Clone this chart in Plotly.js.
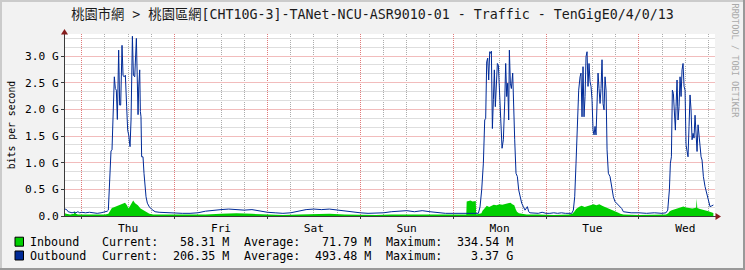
<!DOCTYPE html>
<html><head><meta charset="utf-8">
<script src="https://cdn.plot.ly/plotly-3.0.1.min.js"></script>
<style>html,body{margin:0;padding:0;background:#F2F2F2;overflow:hidden}#chart{width:745px;height:270px}</style>
</head><body>
<div id="chart"></div>
<script>
// ---- data (hours relative to Thursday 00:00, values in Gbit/s) ----
const titleText = '桃園市網 > 桃園區網[CHT10G-3]-TANet-NCU-ASR9010-01 - Traffic - TenGigE0/4/0/13';
const seriesNames = ['Inbound', 'Outbound'];
const seriesColors = ['#00CF00', '#002A97'];
const statCurrent = ['58.31 M', '206.35 M'];
const statAverage = ['71.79 M', '493.48 M'];
const statMaximum = ['334.54 M', '3.37 G'];
const yTickVals = [0, 0.5, 1.0, 1.5, 2.0, 2.5, 3.0];
const yTickText = ['0.0', '0.5 G', '1.0 G', '1.5 G', '2.0 G', '2.5 G', '3.0 G'];

const inHours = [-4.3,-4,-3,-2,-1.8,-1.5,-1,0,1,2,3,4,5,6,6.9,7.3,7.8,8.5,9.5,10.5,11.2,11.7,12.1,12.6,13.3,13.8,14.5,15.2,16,16.8,17.5,18.5,
20,24,28,32,36,40,44,48,52,56,60,64,68,72,76,80,84,88,92,96,99.4,
99.5,100,100.5,101,101.5,101.85,101.95,
102.5,103.3,103.6,104,104.7,105.3,106,106.5,107.2,108,108.7,109.5,110.2,110.8,111.3,111.8,112.2,112.5,113,114,115,118,122,126,
126.8,127.3,127.8,128.5,129.2,130,130.8,131.5,132.3,133,133.8,134.5,135.2,135.9,136.6,137.3,138,138.7,139.2,140,144,148,151,
151.6,152,152.5,153.3,154.2,155,155.5,156.2,157,157.8,158.5,158.8,158.95,159.1,159.8,160.5,161.3,162,162.7,163.26];
const inGbps = [0.05,0.04,0.03,0.04,0.1,0.04,0.03,0.03,0.02,0.03,0.02,0.03,0.02,0.03,0.04,0.1,0.15,0.17,0.2,0.23,0.25,0.2,0.14,0.2,0.29,0.24,0.2,0.14,0.1,0.06,0.04,0.03,
0.03,0.02,0.02,0.03,0.04,0.05,0.04,0.03,0.02,0.03,0.04,0.04,0.03,0.02,0.02,0.03,0.03,0.03,0.02,0.02,0.03,
0.27,0.28,0.29,0.27,0.28,0.28,0.03,
0.04,0.05,0.1,0.14,0.19,0.17,0.2,0.21,0.2,0.22,0.21,0.23,0.24,0.25,0.22,0.2,0.12,0.08,0.05,0.04,0.03,0.03,0.02,0.03,
0.04,0.08,0.13,0.17,0.19,0.17,0.19,0.21,0.22,0.2,0.22,0.19,0.17,0.15,0.13,0.11,0.09,0.06,0.04,0.03,0.02,0.03,0.03,
0.05,0.09,0.11,0.13,0.15,0.17,0.18,0.16,0.15,0.14,0.15,0.16,0.33,0.15,0.13,0.12,0.11,0.09,0.07,0.058];

const outHours = [-4.3,-3.9,-3.5,-3.0,-2.5,-2.0,-1.5,-1.0,-0.5,0,1,2,3,4,5,6,6.6,
6.88,7.31,7.57,7.83,8.17,8.43,8.69,8.95,9.21,9.55,9.81,10.07,10.42,10.68,10.94,11.28,11.62,11.88,12.14,12.49,12.75,13.1,13.36,13.7,14.13,14.39,14.56,14.73,14.99,15.16,15.32,15.49,15.84,16.1,16.36,16.62,16.97,17.49,18.09,18.96,
20,22,24,26,28,30,32,34,36,38,40,42,44,46,48,50,52,54,56,58,60,62,64,66,68,70,72,74,76,78,80,82,84,86,88,90,92,94,96,98,100,102,
102.52,102.95,103.38,103.81,104.16,104.41,104.67,104.93,105.19,105.45,105.71,105.88,106.14,106.4,106.65,106.91,107.17,107.43,107.69,107.95,108.29,108.64,108.98,109.33,109.58,109.84,110.1,110.36,110.53,110.79,111.05,111.39,111.65,111.91,112.25,112.6,112.94,113.29,113.72,114.15,114.58,115.18,115.53,115.87,
117,118,119,120,121,122,123,124,125,126,
126.64,127.07,127.42,127.76,128.11,128.45,128.8,129.05,129.31,129.57,129.83,130.09,130.35,130.61,130.86,131.12,131.38,131.64,131.9,132.16,132.42,132.67,132.93,133.19,133.45,133.71,133.97,134.22,134.48,134.74,135.0,135.26,135.52,135.78,136.12,136.55,136.98,137.41,137.84,138.27,138.7,139.14,139.57,140.0,140.86,
142,144,146,148,150,151,
151.46,151.89,152.15,152.41,152.66,152.92,153.18,153.44,153.61,153.87,154.13,154.39,154.65,154.91,155.16,155.42,155.68,155.94,156.2,156.46,156.71,156.97,157.23,157.49,157.75,158.01,158.26,158.52,158.78,159.04,159.3,159.56,159.82,160.08,160.33,160.68,161.11,161.54,161.8,162.06,162.4,162.83,163.26];
const outGbps = [0.13,0.12,0.08,0.07,0.06,0.07,0.06,0.08,0.06,0.07,0.06,0.07,0.06,0.05,0.06,0.07,0.09,
0.11,0.67,1.22,1.24,2.3,2.61,2.39,2.36,1.81,3.11,2.08,2.08,3.2,2.64,2.61,2.64,2.05,1.61,1.52,1.3,1.8,3.37,2.64,2.61,3.33,2.3,1.9,2.42,2.74,1.96,1.86,1.11,1.11,0.8,0.55,0.36,0.24,0.17,0.125,0.08,
0.07,0.06,0.06,0.05,0.05,0.06,0.09,0.11,0.12,0.13,0.12,0.11,0.12,0.09,0.07,0.06,0.05,0.06,0.09,0.12,0.13,0.12,0.13,0.11,0.09,0.07,0.06,0.05,0.05,0.06,0.08,0.09,0.1,0.08,0.1,0.08,0.06,0.05,0.05,0.05,0.06,0.05,
0.05,0.17,0.49,0.99,1.8,1.83,2.89,2.96,2.55,3.08,3.05,3.09,1.64,2.18,2.74,2.05,2.39,2.86,2.83,2.49,1.83,1.27,1.43,2.14,2.86,2.24,2.49,1.8,3.11,2.49,2.39,2.68,1.86,1.43,0.8,0.74,0.49,0.36,0.24,0.175,0.11,0.175,0.08,0.06,
0.06,0.05,0.07,0.05,0.05,0.06,0.05,0.06,0.05,0.05,
0.05,0.11,0.36,0.99,1.61,2.36,2.61,2.68,1.86,2.8,1.86,2.24,2.99,3.08,2.43,2.86,2.52,2.43,2.18,1.61,1.52,1.68,1.52,2.24,2.68,2.39,2.11,2.39,2.93,2.11,1.99,2.61,2.36,1.24,0.8,0.74,0.55,0.36,0.27,0.24,0.21,0.17,0.14,0.08,0.07,
0.06,0.06,0.05,0.06,0.05,0.06,
0.11,0.49,0.99,1.11,2.36,2.3,1.86,1.61,2.05,2.55,1.8,2.05,2.61,2.24,2.74,2.86,2.43,2.36,1.33,1.18,1.11,1.68,2.27,1.99,1.43,1.55,1.46,1.89,1.55,1.21,1.71,1.49,1.21,1.11,1.05,0.74,0.55,0.43,0.36,0.24,0.175,0.19,0.206];

// ---- layout helpers ----
const W = 745, H = 270, L = 65, R = 715, T = 34, B = 216;
const FONT = 'DejaVu Sans Mono, "Noto Sans CJK TC", monospace';
const THU0 = Date.UTC(2024, 0, 4);
const toMs = h => THU0 + h * 3600000;
const px = x => (x - L) / (R - L);
const py = y => (B - y) / (B - T);
const yMax = (B - T) / 53.33;
// minor y grid every 1/3 of a major step, skipping the major positions
const yMinorVals = [];
for (let k = 1; k / 6 < yMax; k++) if (k % 3 !== 0) yMinorVals.push(k / 6);

const traces = [
  {x: inHours.map(toMs), y: inGbps, type: 'scatter', mode: 'lines', name: seriesNames[0],
   fill: 'tozeroy', fillcolor: seriesColors[0], line: {color: seriesColors[0], width: 0}, hoverinfo: 'skip'},
  {x: outHours.map(toMs), y: outGbps, type: 'scatter', mode: 'lines', name: seriesNames[1],
   line: {color: seriesColors[1], width: 1}, hoverinfo: 'skip'}
];

const rect = (x0, y0, x1, y1, fill, line) => ({type: 'rect', xref: 'paper', yref: 'paper',
  x0: px(x0), x1: px(x1), y0: py(y1), y1: py(y0), fillcolor: fill,
  line: line ? {color: line, width: 1} : {width: 0}, layer: 'above'});

const shapes = [
  rect(0, 0, 2, H, '#CBCBCB'), rect(0, 0, W, 2, '#CBCBCB'),
  rect(W - 2, 0, W, H, '#999999'), rect(0, H - 2, W, H, '#999999'),
  {type: 'path', xref: 'paper', yref: 'paper', layer: 'above',
   path: `M ${px(64.5)} ${py(29)} L ${px(61)} ${py(34.5)} L ${px(68)} ${py(34.5)} Z`,
   fillcolor: '#861C1C', line: {width: 0}},
  {type: 'line', xref: 'paper', yref: 'paper', layer: 'above', x0: px(714), x1: px(717), y0: py(216.5), y1: py(216.5),
   line: {color: '#3A3A3A', width: 1}},
  {type: 'path', xref: 'paper', yref: 'paper', layer: 'above',
   path: `M ${px(721)} ${py(216.5)} L ${px(715.5)} ${py(213)} L ${px(715.5)} ${py(220)} Z`,
   fillcolor: '#861C1C', line: {width: 0}}
];

const annotations = [
  {xref: 'paper', yref: 'paper', x: px(734.5), y: py(61), text: 'RRDTOOL / TOBI OETIKER', textangle: 90,
   showarrow: false, font: {family: FONT, size: 8.6, color: '#AAAAAA'}, xanchor: 'center', yanchor: 'middle'}
];
const rowY = [241.7, 255.5];
const legFont = {family: FONT, size: 11.7, color: '#000'};
seriesNames.forEach((nm, i) => {
  shapes.push(rect(15, rowY[i] - 4.5, 23.5, rowY[i] + 4.5, seriesColors[i], '#000000'));
  const cols = [
    [nm, 30, 'left'], ['Current:', 101.5, 'left'], [statCurrent[i], 229, 'right'],
    ['Average:', 243.5, 'left'], [statAverage[i], 370.5, 'right'],
    ['Maximum:', 385.5, 'left'], [statMaximum[i], 512.5, 'right']
  ];
  cols.forEach(([t, x, anc]) => annotations.push({xref: 'paper', yref: 'paper', x: px(x), y: py(rowY[i]),
    text: t, showarrow: false, xanchor: anc, yanchor: 'middle', borderpad: 0, borderwidth: 0, font: legFont}));
});

const axisCol = '#3A3A3A';
const tickFont = {family: FONT, size: 11.2, color: '#000'};

const layout = {
  width: W, height: H, margin: {l: L, r: W - R, t: T, b: H - B, pad: 0},
  paper_bgcolor: '#F2F2F2', plot_bgcolor: '#FFFFFF', showlegend: false,
  title: {text: titleText, font: {family: FONT, size: 13.3, color: '#1A1A1A'},
          x: 0.5, xref: 'container', xanchor: 'center', y: 1 - 14.5 / H, yref: 'container', yanchor: 'middle'},
  xaxis: {type: 'date', range: [toMs(-4.32), toMs(163.68)], tickmode: 'linear', tick0: toMs(0), dtick: 86400000,
    tickformat: '%a', ticklabelmode: 'period', showgrid: true, gridcolor: '#E07A7A', griddash: '1px,1px', gridwidth: 1,
    minor: {tickmode: 'linear', tick0: toMs(0), dtick: 6 * 3600000, showgrid: true, gridcolor: '#ABABAB', griddash: '1px,1px', gridwidth: 1},
    showline: true, linecolor: axisCol, linewidth: 1, ticks: 'outside', ticklen: 2, tickcolor: axisCol,
    tickfont: tickFont, zeroline: false, fixedrange: true},
  yaxis: {range: [0, yMax], tickmode: 'array', tickvals: yTickVals, ticktext: yTickText,
    showgrid: true, gridcolor: '#F2BCBC', gridwidth: 1,
    minor: {tickmode: 'array', tickvals: yMinorVals, showgrid: true, gridcolor: '#DEDEDE', gridwidth: 1},
    showline: true, linecolor: axisCol, linewidth: 1, ticks: 'outside', ticklen: 3, tickcolor: axisCol,
    tickfont: tickFont, zeroline: false, fixedrange: true,
    title: {text: 'bits per second', font: {family: FONT, size: 9.8, color: '#000'}, standoff: 7}},
  shapes: shapes, annotations: annotations
};

Plotly.newPlot('chart', traces, layout, {staticPlot: true, displayModeBar: false});
</script>
</body></html>
